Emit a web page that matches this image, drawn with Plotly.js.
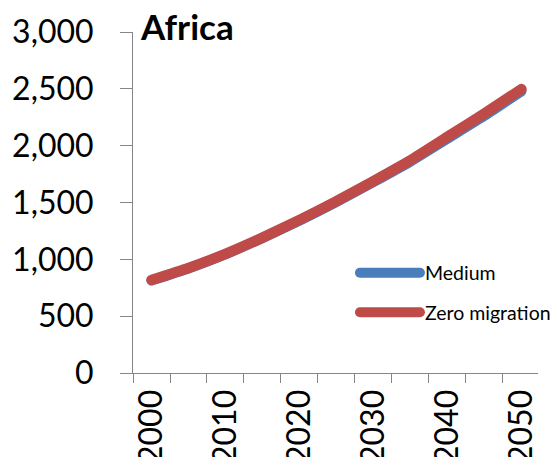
<!DOCTYPE html>
<html>
<head>
<meta charset="utf-8">
<script src="https://cdn.plot.ly/plotly-3.0.1.min.js"></script>
<style>
html,body{margin:0;padding:0;background:#fff;}
#chart{width:556px;height:457px;}
#chart .scatterlayer path.js-line, #chart .legend path.js-line{stroke-linecap:round !important;}
</style>
</head>
<body>
<div id="chart"></div>
<script>
// Data (millions)
const years = ['2000','2005','2010','2015','2020','2025','2030','2035','2040','2045','2050'];
const xTickText = ['2000','','2010','','2020','','2030','','2040','','2050'];
const mediumValues = [814, 920, 1044, 1186, 1340, 1504, 1679, 1860, 2061, 2262, 2478];
const zeroMigrationValues = [818, 924, 1048, 1191, 1347, 1512, 1689, 1872, 2078, 2283, 2498];
const seriesNames = ['Medium', 'Zero migration'];
const chartTitle = 'Africa';

const FONT = 'Lato, "Open Sans", sans-serif';
const AXIS_COLOR = '#868686';

const traces = [
  {
    x: years, y: mediumValues, name: seriesNames[0], type: 'scatter', mode: 'lines',
    line: {color: '#4A7EBB', width: 10, shape: 'spline', smoothing: 0.5},
    legendgroup: 'a'
  },
  {
    x: years, y: zeroMigrationValues, name: seriesNames[1], type: 'scatter', mode: 'lines',
    line: {color: '#BE4B48', width: 10.5, shape: 'spline', smoothing: 0.5},
    legendgroup: 'b'
  }
];

const layout = {
  width: 556, height: 457,
  margin: {l: 133, r: 0, t: 31.6, b: 84.3, pad: 0},
  paper_bgcolor: '#fff', plot_bgcolor: '#fff',
  font: {family: FONT, color: '#000'},
  title: {
    text: '<b>' + chartTitle + '</b>',
    font: {family: FONT, size: 35, color: '#000'},
    x: 141 / 556, xanchor: 'left', xref: 'container',
    y: 1 - 28 / 457, yanchor: 'middle', yref: 'container'
  },
  showlegend: true,
  legend: {
    x: 0.548, xanchor: 'left', y: 0.35, yanchor: 'top',
    font: {family: FONT, size: 19.5, color: '#000'},
    bgcolor: 'rgba(0,0,0,0)', borderwidth: 0,
    tracegroupgap: 11, itemwidth: 60,
    traceorder: 'grouped'
  },
  xaxis: {
    type: 'category',
    range: [-0.5, 10.447],
    tickson: 'boundaries',
    tickmode: 'array', tickvals: years, ticktext: xTickText,
    tickangle: -90,
    ticks: 'outside', ticklen: 9, tickwidth: 1, tickcolor: AXIS_COLOR,
    showline: true, linecolor: AXIS_COLOR, linewidth: 1,
    showgrid: false, zeroline: false,
    tickfont: {family: FONT, size: 32, color: '#000'},
    ticklabelstandoff: 3,
    fixedrange: true
  },
  yaxis: {
    range: [0, 3000],
    tickmode: 'linear', tick0: 0, dtick: 500,
    tickformat: ',d',
    ticks: 'outside', ticklen: 12, tickwidth: 1, tickcolor: AXIS_COLOR,
    showline: true, linecolor: AXIS_COLOR, linewidth: 1,
    showgrid: false, zeroline: false,
    tickfont: {family: FONT, size: 32, color: '#000'},
    ticklabelstandoff: 20,
    fixedrange: true
  }
};

Plotly.newPlot('chart', traces, layout, {displayModeBar: false, staticPlot: true});
</script>
</body>
</html>
